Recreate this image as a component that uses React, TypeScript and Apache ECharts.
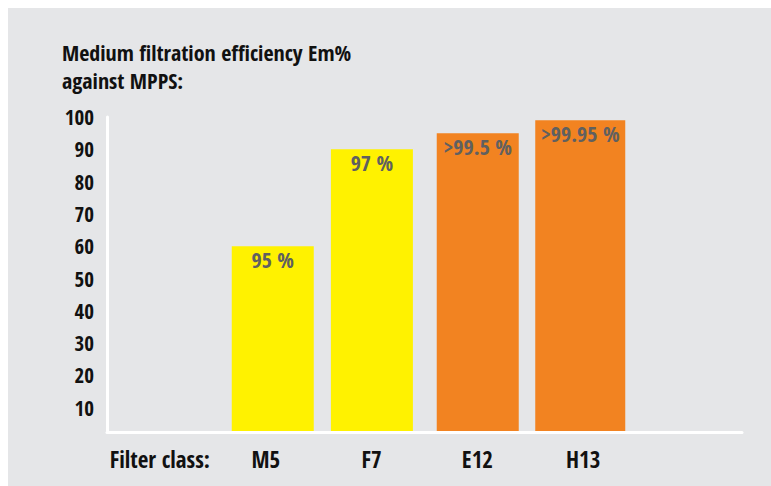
import { useEffect, useRef } from "react";
import * as echarts from "echarts";

const titleLines = ["Medium filtration efficiency Em%", "against MPPS:"];
const axisCaption = "Filter class:";
const filterClasses = ["M5", "F7", "E12", "H13"];
const efficiencyValues = [60, 90, 95, 99];
const efficiencyLabels = ["95 %", "97 %", ">99.5 %", ">99.95 %"];
const barColors = ["#fff200", "#fff200", "#f28321", "#f28321"];
const yTickValues = [10, 20, 30, 40, 50, 60, 70, 80, 90, 100];
// bars are drawn in three groups so that their widths/offsets match the reference
const barGroups = [["H13"], ["F7", "E12"], ["M5"]];
const barGroupWidths = [90, 82, 82];

const FONT = "'Open Sans Condensed', 'Roboto Condensed', sans-serif";

export default function App() {
  const ref = useRef<HTMLDivElement>(null);

  useEffect(() => {
    if (!ref.current) return;
    const chart = echarts.init(ref.current, undefined, { renderer: "svg" });
    const categories = [axisCaption, ...filterClasses, ""];

    const labelStyle = {
      show: true,
      position: "insideTop" as const,
      distance: 2,
      color: "#606060",
      fontSize: 22,
      fontWeight: "bold" as const,
      fontFamily: FONT,
    };

    const series = barGroups.map((group, gi) => ({
      type: "bar" as const,
      barWidth: barGroupWidths[gi],
      barGap: "-91.86%",
      label: labelStyle,
      data: categories.map((c) => {
        const k = filterClasses.indexOf(c);
        if (k < 0 || group.indexOf(c) < 0) return "-";
        return {
          value: efficiencyValues[k],
          itemStyle: { color: barColors[k] },
          label: { formatter: efficiencyLabels[k] },
        };
      }),
    }));

    chart.setOption({
      animation: false,
      backgroundColor: "#e5e6e8",
      title: {
        text: titleLines.join("\n"),
        left: 54,
        top: 30,
        padding: 0,
        textStyle: {
          fontFamily: FONT,
          fontSize: 22,
          fontWeight: "bold",
          color: "#111111",
          lineHeight: 28,
        },
      },
      grid: { left: 99, right: 29, top: 109, bottom: 55, containLabel: false },
      xAxis: {
        type: "category",
        data: categories,
        offset: 1.5,
        axisLine: { show: true, lineStyle: { color: "#ffffff", width: 3 } },
        axisTick: { show: false },
        axisLabel: {
          interval: 0,
          margin: 15,
          color: "#111111",
          fontSize: 23,
          fontWeight: "bold",
          fontFamily: FONT,
        },
        splitLine: { show: false },
      },
      yAxis: {
        type: "value",
        min: 2.8,
        max: 100,
        axisLine: { show: true, lineStyle: { color: "#ffffff", width: 3 } },
        axisTick: { show: false },
        splitLine: { show: false },
        axisLabel: {
          customValues: yTickValues,
          margin: 13,
          color: "#111111",
          fontSize: 21,
          fontWeight: "bold",
          fontFamily: FONT,
        },
      },
      series,
    });
    return () => chart.dispose();
  }, []);

  return (
    <div
      ref={ref}
      style={{ position: "absolute", left: 8, top: 8, width: 763, height: 478 }}
    />
  );
}
